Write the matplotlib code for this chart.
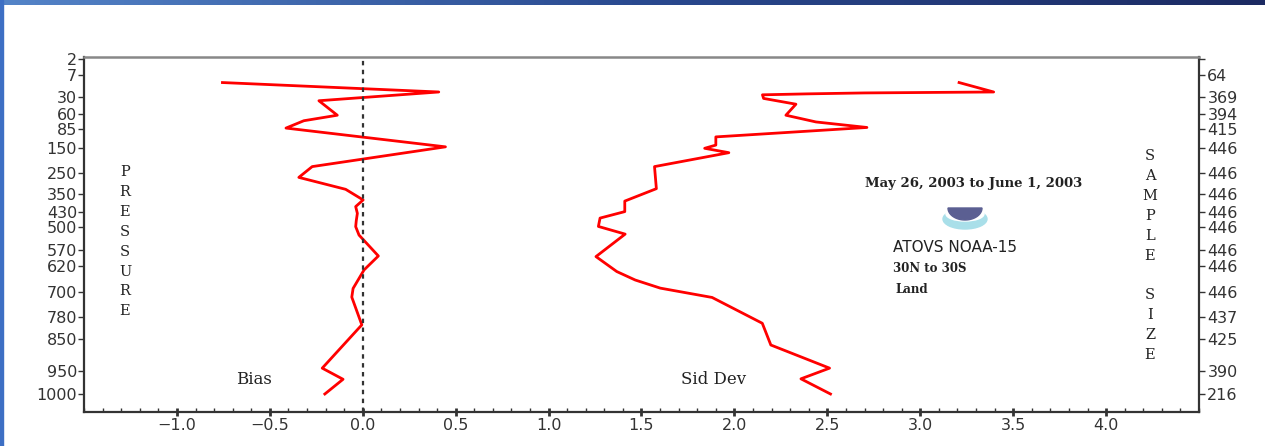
"""ATOVS NOAA-15 retrieval bias / std dev profile (30N to 30S, land)."""
import numpy as np
import matplotlib
matplotlib.use("Agg")
import matplotlib.pyplot as plt
from matplotlib.patches import Ellipse, Polygon, Rectangle

# pressure levels (hPa) on the left axis, sample size on the right axis
LEVELS = [2, 7, 30, 60, 85, 150, 250, 350, 430, 500, 570, 620, 700, 780, 850, 950, 1000]
SAMPLE_SIZE = ["", "64", "369", "394", "415", "446", "446", "446", "446",
               "446", "446", "446", "446", "437", "425", "390", "216"]

# bias profile (K) and pressure of each vertex
BIAS_P = [15, 25, 37, 62, 71, 83, 145, 225, 272, 328, 376, 405, 435, 470,
          497, 524, 589, 633, 690, 717, 804, 941, 968, 1000]
BIAS = [-0.755, 0.409, -0.236, -0.137, -0.317, -0.413, 0.445, -0.272, -0.344,
        -0.092, 0.002, -0.038, -0.029, -0.035, -0.038, -0.020, 0.084, 0.007,
        -0.052, -0.059, -0.005, -0.218, -0.106, -0.204]

# standard deviation profile (K)
STD_P = [15, 25, 26, 27, 28, 33, 43, 62, 73, 82, 111, 139, 150, 168, 225, 325,
         381, 427, 457, 496, 521, 591, 638, 664, 689, 718, 799, 868, 941, 967, 1000]
STD = [3.209, 3.395, 2.700, 2.391, 2.151, 2.157, 2.331, 2.277, 2.439, 2.713,
       1.90, 1.90, 1.84, 1.97, 1.57, 1.58, 1.41, 1.41, 1.277, 1.268, 1.412,
       1.255, 1.367, 1.466, 1.601, 1.880, 2.150, 2.196, 2.512, 2.358, 2.517]

XTICKS = [-1.0, -0.5, 0.0, 0.5, 1.0, 1.5, 2.0, 2.5, 3.0, 3.5, 4.0]

# vertical placement of the pressure axis (irregular spacing of the original)
POS_P = [0] + LEVELS + [1100]
POS_DEPTH = [0, 2, 18, 39.7, 57, 72.3, 91.3, 115.7, 137, 155.3, 170.3, 193,
             208.7, 234.7, 260.3, 282.3, 314, 337, 355.3]

W, H = 1265, 446


def forward(p):
    return np.interp(p, POS_P, POS_DEPTH)


def inverse(d):
    return np.interp(d, POS_DEPTH, POS_P)


def fx(x):
    return x / W


def fy(y):
    return 1 - y / H


fig = plt.figure(figsize=(W / 100, H / 100), dpi=100)
fig.patch.set_facecolor("white")

ax = fig.add_axes([fx(84), fy(412.3), (1199 - 84) / W, (412.3 - 57) / H])
ax.set_yscale("function", functions=(forward, inverse))
ax.set_ylim(1100, 0)
ax.set_xlim(-1.5, 4.5)

ax.plot(BIAS, BIAS_P, color="red", lw=2)
ax.plot(STD, STD_P, color="red", lw=2)
ax.axvline(0, color="#333333", lw=1.6, ls=(0, (2, 2)))

# axes styling
for side in ["left", "bottom", "right"]:
    ax.spines[side].set_color("#333333")
    ax.spines[side].set_linewidth(1.6)
ax.spines["top"].set_color("#888888")
ax.spines["top"].set_linewidth(1.8)

ax.set_xticks(XTICKS)
ax.set_xticklabels([f"{v:.1f}".replace("-", "\u2212") for v in XTICKS])
ax.set_xticks(np.arange(-1.5, 4.51, 0.1), minor=True)
ax.tick_params(axis="x", which="major", direction="inout", length=6, width=2,
               color="#333333", labelsize=11.5, labelcolor="#333333", pad=1)
ax.tick_params(axis="x", which="minor", direction="in", length=3, width=1,
               color="#333333")

ax.set_yticks(LEVELS)
ax.set_yticklabels([str(p) for p in LEVELS])
ax.yaxis.set_minor_locator(matplotlib.ticker.NullLocator())
ax.tick_params(axis="y", which="major", direction="out", length=4, width=1,
               color="#333333", labelsize=11.5, labelcolor="#333333", pad=1)

ax2 = ax.twinx()
ax2.set_yscale("function", functions=(forward, inverse))
ax2.set_ylim(1100, 0)
ax2.set_yticks(LEVELS)
ax2.set_yticklabels(SAMPLE_SIZE)
ax2.yaxis.set_minor_locator(matplotlib.ticker.NullLocator())
ax2.tick_params(axis="y", which="major", direction="out", length=4, width=1,
                color="#333333", labelsize=11.5, labelcolor="#333333", pad=2)
for s in ax2.spines.values():
    s.set_visible(False)

# stacked axis titles
serif = "DejaVu Serif"
for i, ch in enumerate("PRESSURE"):
    fig.text(fx(125), fy(172 + i * 19.9), ch, ha="center", va="center",
             fontsize=10.5, family=serif, color="#222222")
for i, ch in enumerate("SAMPLE SIZE"):
    if ch != " ":
        fig.text(fx(1150), fy(156 + i * 19.9), ch, ha="center", va="center",
                 fontsize=10.5, family=serif, color="#222222")

fig.text(fx(254), fy(380), "Bias", ha="center", va="center", fontsize=12,
         family=serif, color="#222222")
fig.text(fx(714), fy(380), "Sid Dev", ha="center", va="center", fontsize=12,
         family=serif, color="#222222")

fig.text(fx(974), fy(183), "May 26, 2003 to June 1, 2003", ha="center",
         va="center", fontsize=9.5, family=serif, weight="bold", color="#222222")
fig.text(fx(893), fy(247.5), "ATOVS NOAA-15", ha="left", va="center",
         fontsize=11, family="DejaVu Sans", color="#222222")
fig.text(fx(893), fy(268), "30N to 30S", ha="left", va="center",
         fontsize=8.5, family=serif, weight="bold", color="#222222")
fig.text(fx(895), fy(289.5), "Land", ha="left", va="center",
         fontsize=8.5, family=serif, weight="bold", color="#222222")

# small NOAA emblem
fig.patches.append(Ellipse((fx(965), fy(219)), 44 / W, 20 / H,
                           transform=fig.transFigure, color="#a9dfe9", zorder=5))
fig.patches.append(Ellipse((fx(965), fy(214)), 38 / W, 14 / H,
                           transform=fig.transFigure, color="white", zorder=6))
t = np.linspace(np.pi, 2 * np.pi, 40)
shield = np.column_stack([fx(965 + 17 * np.cos(t)), fy(208 - 12 * np.sin(t))])
fig.patches.append(Polygon(shield, closed=True, transform=fig.transFigure,
                           color="#5b5f92", zorder=7))

# slide header band and left border
grad = np.linspace(0, 1, 256)[None, :]
hdr = fig.add_axes([0, fy(5), 1, 5 / H])
hdr.imshow(grad, aspect="auto",
           cmap=matplotlib.colors.LinearSegmentedColormap.from_list(
               "hdr", ["#5484c8", "#2a4a90", "#1c2a62"]))
hdr.axis("off")
fig.patches.append(Rectangle((0, 0), 2.5 / W, 1, transform=fig.transFigure,
                             color="#3d6fc4", zorder=10))

fig.savefig("out.png", dpi=100)
